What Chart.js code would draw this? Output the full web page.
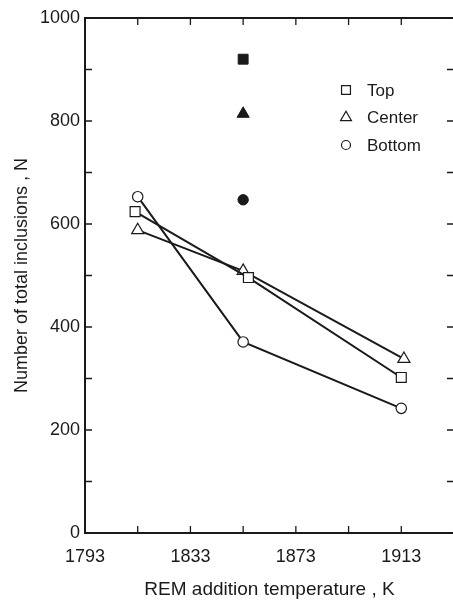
<!DOCTYPE html>
<html>
<head>
<meta charset="utf-8">
<script src="https://cdn.jsdelivr.net/npm/chart.js@4/dist/chart.umd.min.js"></script>
<style>
  html, body { margin: 0; padding: 0; background: #fff; overflow: hidden; }
  #wrap { width: 453px; height: 601px; overflow: hidden; }
  #wrap canvas { display: block; }
</style>
</head>
<body>
<div id="wrap"><canvas id="c" width="470" height="601"></canvas></div>
<script>
// data
const topX = [1812, 1855, 1913];
const topN = [624, 496, 302];
const centerX = [1813, 1853, 1914];
const centerN = [588, 509, 338];
const bottomX = [1813, 1853, 1913];
const bottomN = [653, 371, 242];
// filled symbols at 1853 K
const filledX = [1853, 1853, 1853];
const filledN = [920, 814, 647];

const seriesNames = ["Top", "Center", "Bottom"];
const seriesStyles = ["rect", "triangle", "circle"];

const xMin = 1793, xMax = 1933, xStep = 20;
const yMin = 0, yMax = 1000, yStep = 100;

const ink = "#1a1a1a";
const font = "'Liberation Sans', Arial, sans-serif";

// point radius per symbol (rect is drawn smaller than its radius)
function symRadius(style) {
    if (style === "rect") return 7;
    if (style === "triangle") return 7;
    return 5.2;
}

function pts(xs, ys) {
    return xs.map((x, i) => ({ x: x, y: ys[i] }));
}

function openSeries(i, xs, ys) {
    return {
        label: seriesNames[i],
        data: pts(xs, ys),
        showLine: true,
        borderColor: ink,
        borderWidth: 2,
        pointStyle: seriesStyles[i],
        pointRadius: symRadius(seriesStyles[i]),
        pointBackgroundColor: "#fff",
        pointBorderColor: ink,
        pointBorderWidth: 1.2
    };
}

function filledPoint(i) {
    return {
        label: "filled " + seriesNames[i],
        data: [{ x: filledX[i], y: filledN[i] }],
        showLine: false,
        pointStyle: seriesStyles[i],
        pointRadius: symRadius(seriesStyles[i]),
        pointBackgroundColor: ink,
        pointBorderColor: ink,
        pointBorderWidth: 1
    };
}

// frame + inward ticks + legend inside plot
const framePlugin = {
    id: "frame",
    afterDraw(chart) {
        const ctx = chart.ctx;
        const a = chart.chartArea;
        const xs = chart.scales.x, ys = chart.scales.y;
        ctx.save();
        ctx.strokeStyle = ink;
        ctx.lineWidth = 2;
        ctx.strokeRect(a.left, a.top, a.right - a.left, a.bottom - a.top);
        ctx.lineWidth = 1.3;
        const len = 7;
        xs.ticks.forEach(t => {
            const px = xs.getPixelForValue(t.value);
            ctx.beginPath();
            ctx.moveTo(px, a.bottom); ctx.lineTo(px, a.bottom - len);
            ctx.moveTo(px, a.top); ctx.lineTo(px, a.top + len);
            ctx.stroke();
        });
        ys.ticks.forEach(t => {
            const py = ys.getPixelForValue(t.value);
            ctx.beginPath();
            ctx.moveTo(a.left, py); ctx.lineTo(a.left + len, py);
            ctx.moveTo(a.right, py); ctx.lineTo(a.right - len, py);
            ctx.stroke();
        });

        // legend (open symbols)
        const lx = a.right - 108, ly = a.top + 72, gap = 27.5;
        seriesNames.forEach((name, i) => {
            const y = ly + i * gap;
            ctx.fillStyle = "#fff";
            ctx.strokeStyle = ink;
            ctx.lineWidth = 1.2;
            Chart.helpers.drawPoint(ctx, {
                pointStyle: seriesStyles[i],
                radius: symRadius(seriesStyles[i]) - 0.7,
                borderWidth: 1.2
            }, lx, y);
            ctx.font = "17px " + font;
            ctx.fillStyle = ink;
            ctx.textBaseline = "middle";
            ctx.textAlign = "left";
            ctx.fillText(name, lx + 21, y + 1);
        });
        ctx.restore();
    }
};

new Chart(document.getElementById("c"), {
    type: "scatter",
    data: {
        datasets: [
            openSeries(0, topX, topN),
            openSeries(1, centerX, centerN),
            openSeries(2, bottomX, bottomN),
            filledPoint(0),
            filledPoint(1),
            filledPoint(2)
        ]
    },
    options: {
        responsive: false,
        animation: false,
        layout: { padding: { top: 18, right: 16, left: 0, bottom: 0 } },
        plugins: {
            legend: { display: false },
            tooltip: { enabled: false }
        },
        scales: {
            x: {
                type: "linear",
                min: xMin, max: xMax,
                grid: { display: false, drawTicks: false },
                border: { display: false },
                ticks: {
                    stepSize: xStep,
                    padding: 13,
                    color: ink,
                    font: { family: font, size: 18 },
                    maxRotation: 0,
                    autoSkip: false,
                    callback: v => ((v - xMin) % 40 === 0 ? String(v) : "")
                },
                title: {
                    display: true,
                    text: "REM addition temperature , K",
                    color: ink,
                    font: { family: font, size: 19 },
                    padding: { top: 4, bottom: 0 }
                },
                afterFit: s => { s.height = 68; }
            },
            y: {
                min: yMin, max: yMax,
                grid: { display: false, drawTicks: false },
                border: { display: false },
                ticks: {
                    stepSize: yStep,
                    padding: 5,
                    color: ink,
                    font: { family: font, size: 18 },
                    autoSkip: false,
                    callback: v => (v % 200 === 0 ? String(v) : "")
                },
                title: {
                    display: true,
                    text: "Number of total inclusions , N",
                    color: ink,
                    font: { family: font, size: 18 },
                    padding: { top: 11, bottom: 0 }
                },
                afterFit: s => { s.width = 85; }
            }
        }
    },
    plugins: [framePlugin]
});
</script>
</body>
</html>
